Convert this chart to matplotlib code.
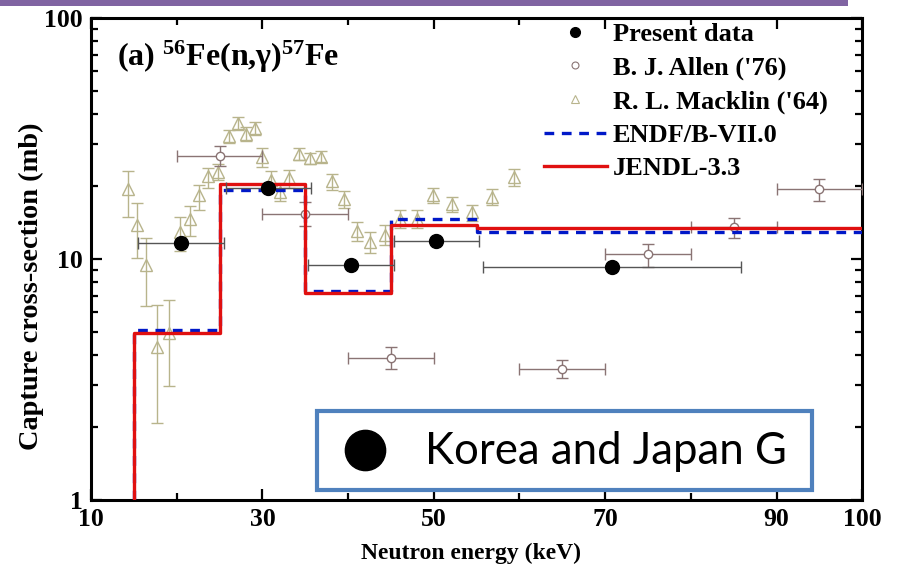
import numpy as np
import matplotlib
matplotlib.use("Agg")
import matplotlib.pyplot as plt
from matplotlib.lines import Line2D
from matplotlib.patches import Rectangle

plt.rcParams['font.family'] = 'Liberation Serif'
plt.rcParams['font.weight'] = 'bold'
plt.rcParams['axes.labelweight'] = 'bold'
plt.rcParams['mathtext.default'] = 'regular'
plt.rcParams['lines.scale_dashes'] = False

# present data (filled circles)
present_e = [20.5, 30.7, 40.3, 50.3, 70.8]
present_xerr = [5.0, 5.0, 5.0, 5.0, 15.0]
present_cs = [11.7, 19.7, 9.45, 11.9, 9.3]

# B. J. Allen ('76)
allen_e = [25, 35, 45, 65, 75, 85, 95]
allen_xerr = [5, 5, 5, 5, 5, 5, 5]
allen_cs = [26.8, 15.4, 3.9, 3.5, 10.5, 13.6, 19.5]
allen_lo = [2.5, 1.7, 0.42, 0.3, 1.2, 1.4, 2.1]
allen_hi = [2.7, 1.9, 0.4, 0.3, 1.0, 1.2, 2.0]

# R. L. Macklin ('64)
macklin_e = [14.3, 15.4, 16.4, 17.7, 19.1, 20.4, 21.5, 22.6, 23.6, 24.8,
             26.1, 27.2, 28.1, 29.1, 30.0, 31.0, 32.1, 33.1, 34.3, 35.5,
             36.8, 38.1, 39.5, 41.0, 42.5, 44.3, 46.0, 48.1, 49.9, 52.1,
             54.5, 56.8, 59.4]
macklin_cs = [19.5, 13.8, 9.4, 4.33, 4.92, 13.0, 14.7, 18.4, 22.0, 23.0,
              32.4, 36.5, 33.1, 34.9, 26.6, 21.3, 19.0, 21.6, 27.4, 26.2,
              26.6, 21.0, 17.7, 13.1, 11.8, 12.6, 14.7, 14.7, 18.4, 16.9,
              15.6, 18.1, 21.8]
macklin_lo = [4.6, 3.7, 3.0, 2.24, 1.95, 2.2, 2.3, 2.5, 2.3, 1.8,
              2.0, 2.2, 2.2, 2.2, 2.4, 1.8, 1.6, 1.8, 1.6, 1.4,
              1.4, 1.6, 1.4, 1.2, 1.2, 1.2, 1.2, 1.2, 1.4, 1.2,
              1.2, 1.4, 1.8]
macklin_hi = [3.7, 3.2, 2.8, 2.11, 1.83, 2.0, 1.9, 1.9, 1.8, 1.8,
              2.0, 2.2, 2.2, 2.2, 2.4, 1.8, 1.6, 1.8, 1.6, 1.4,
              1.4, 1.6, 1.4, 1.2, 1.2, 1.2, 1.2, 1.2, 1.4, 1.2,
              1.2, 1.4, 1.8]

# evaluated libraries, group-averaged
group_edges = [15, 25, 35, 45, 55, 100]
endf = [5.07, 19.3, 7.35, 14.6, 12.9]
jendl = [4.92, 20.5, 7.2, 13.9, 13.5]

allen_color = '#8a7474'
macklin_color = '#b8b48c'

fig = plt.figure(figsize=(9.01, 5.70), dpi=100)
fig.patch.set_facecolor('white')
fig.add_artist(Rectangle((0, 1 - 6 / 570), 848 / 901, 6 / 570,
                         transform=fig.transFigure, facecolor='#8064a2',
                         edgecolor='none'))

ax = fig.add_axes([0.101, 0.1228, 0.856, 0.8456])

ax.errorbar(macklin_e, macklin_cs, yerr=[macklin_lo, macklin_hi], fmt='^',
            ms=9, mfc='none', mec=macklin_color, mew=1.0, ecolor=macklin_color,
            elinewidth=1.0, capsize=4, capthick=1.0, zorder=2)
ax.errorbar(allen_e, allen_cs, xerr=allen_xerr, yerr=[allen_lo, allen_hi],
            fmt='o', ms=6, mfc='white', mec=allen_color, mew=1.0,
            ecolor=allen_color, elinewidth=1.0, capsize=4, capthick=1.0,
            zorder=3)


def step_line(values, **kw):
    xs = [group_edges[0]] + group_edges
    ys = [1.0] + values + [values[-1]]
    ax.plot(xs, ys, drawstyle='steps-post', **kw)


step_line(endf, color='#0018c8', lw=2.4, dashes=(7, 5.5), zorder=4)
step_line(jendl, color='#e01010', lw=2.4, zorder=5)

ax.errorbar(present_e, present_cs, xerr=present_xerr, fmt='o', ms=10,
            color='black', ecolor='#555555', elinewidth=1.0, capsize=4,
            capthick=1.0, zorder=6)

ax.set_yscale('log')
ax.set_xlim(10, 100)
ax.set_ylim(1, 100)
ax.set_xticks([10, 30, 50, 70, 90, 100])
ax.set_xticklabels(['10', '30', '50', '70', '90', '100'])
ax.set_xticks([20, 40, 60, 80], minor=True)
ax.set_yticks([1, 10, 100])
ax.set_yticklabels(['1', '10', '100'])
ax.tick_params(which='both', direction='in', top=True, right=True,
               labelsize=18.5, width=1.6)
ax.tick_params(which='major', length=8)
ax.tick_params(which='minor', length=5)
ax.tick_params(axis='x', pad=6)
ax.tick_params(axis='y', pad=6)
for s in ax.spines.values():
    s.set_linewidth(2.2)

ax.set_xlabel('Neutron energy (keV)', fontsize=17)
ax.xaxis.set_label_coords(0.493, -0.089)
ax.set_ylabel('Capture cross-section (mb)', fontsize=20.4)
ax.yaxis.set_label_coords(-0.061, 0.444)

ax.text(0.0337, 0.900, '(a) $^{56}$Fe(n,γ)$^{57}$Fe', transform=ax.transAxes,
        fontsize=23, va='baseline', ha='left')

handles = [
    Line2D([], [], ls='none', marker='o', ms=7, color='black'),
    Line2D([], [], ls='none', marker='o', ms=5, mfc='white', mec=allen_color, mew=0.8),
    Line2D([], [], ls='none', marker='^', ms=6, mfc='none', mec=macklin_color, mew=0.8),
    Line2D([], [], color='#0018c8', lw=2.4, dashes=(7, 5.5)),
    Line2D([], [], color='#e01010', lw=2.4),
]
labels = ['Present data', 'B. J. Allen (\'76)', 'R. L. Macklin (\'64)',
          'ENDF/B-VII.0', 'JENDL-3.3']
ax.legend(handles, labels, loc='upper right', bbox_to_anchor=(0.969, 1.012),
          frameon=False, fontsize=19, handlelength=2.4, handletextpad=0.23,
          labelspacing=0.37, borderaxespad=0)

# overlay box
fig.add_artist(Rectangle((317 / 901, 1 - 490 / 570), 495 / 901, 79 / 570,
                         transform=fig.transFigure, facecolor='white',
                         edgecolor='#4f81bd', lw=3, zorder=10))
fig.add_artist(Line2D([365 / 901], [1 - 450 / 570], transform=fig.transFigure,
                      marker='o', ms=29, color='black', ls='none', zorder=11))
fig.text(425 / 901, 1 - 452 / 570, 'Korea and Japan G', family='Lato',
         weight='normal', fontsize=31.5, va='center', ha='left', zorder=11)

fig.savefig('out.png', dpi=100)
